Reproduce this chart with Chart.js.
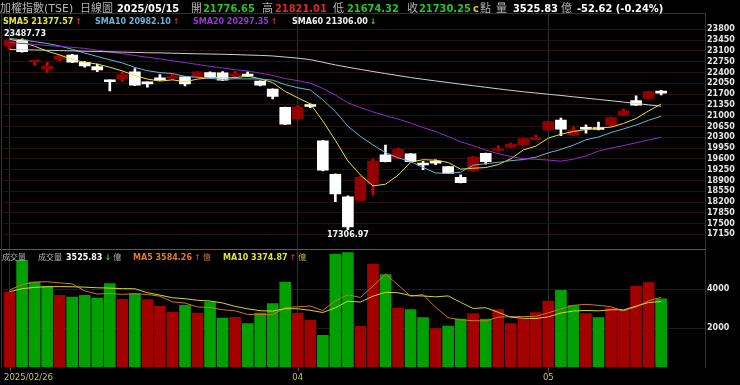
<!DOCTYPE html>
<html><head><meta charset="utf-8">
<script src="https://cdn.jsdelivr.net/npm/chart.js@4.4.1/dist/chart.umd.min.js"></script>
<style>
html,body{margin:0;padding:0;background:#000;width:740px;height:385px;overflow:hidden;}
#wrap{position:relative;width:740px;height:385px;background:#000;}
canvas{position:absolute;left:0;top:0;}
.t{position:absolute;white-space:nowrap;font-family:"DejaVu Sans","Noto Sans CJK TC",sans-serif;z-index:5;}
</style></head><body>
<div id="wrap">
<canvas id="price" width="740" height="385"></canvas>
<canvas id="vol" width="740" height="385"></canvas>
</div>
<script>
// ---------- data ----------
const dates = ['2025/02/26','2025/02/27','2025/03/03','2025/03/04','2025/03/05','2025/03/06','2025/03/07','2025/03/10','2025/03/11','2025/03/12',
 '2025/03/13','2025/03/14','2025/03/17','2025/03/18','2025/03/19','2025/03/20','2025/03/21','2025/03/24','2025/03/25','2025/03/26',
 '2025/03/27','2025/03/28','2025/03/31','2025/04/01','2025/04/02','2025/04/07','2025/04/08','2025/04/09','2025/04/10','2025/04/11',
 '2025/04/14','2025/04/15','2025/04/16','2025/04/17','2025/04/18','2025/04/21','2025/04/22','2025/04/23','2025/04/24','2025/04/25',
 '2025/04/28','2025/04/29','2025/04/30','2025/05/02','2025/05/05','2025/05/06','2025/05/07','2025/05/08','2025/05/09','2025/05/12',
 '2025/05/13','2025/05/14','2025/05/15'];
const opens = [23250,23450,22740,22520,22820,22960,22730,22590,22160,22180,
 22420,22070,22180,22210,22260,22250,22400,22390,22290,22330,
 22120,21860,21270,20890,21330,20180,19100,18370,18250,18790,
 19730,19620,19760,19460,19500,19350,19000,19210,19780,19870,
 19980,20050,20220,20540,20860,20370,20600,20610,20700,21020,
 21490,21560,21776.65];
const highs = [23470,23487.73,22790,22730,22950,22990,22750,22670,22160,22420,
 22530,22100,22330,22350,22270,22430,22420,22430,22440,22420,
 22130,21870,21280,21330,21380,20190,19110,18400,19040,19600,
 20050,19950,19770,19520,19570,19360,19080,19670,19790,20030,
 20110,20270,20370,20820,20920,20640,20700,20790,20950,21210,
 21640,21800,21821.01];
const lows = [23160,23060,22640,22400,22770,22720,22570,22430,21800,22100,
 21970,21920,22140,22170,21960,22240,22230,22140,22240,22260,
 21960,21540,20710,20880,21260,19210,18210,17306.97,18250,18430,
 19500,19600,19500,19250,19410,19120,18820,19200,19430,19860,
 19960,20040,20210,20530,20350,20360,20430,20540,20650,21000,
 21330,21540,21674.32];
const closes = [23460,23075,22770,22610,22930,22730,22610,22480,22100,22330,
 21990,22030,22160,22290,22030,22420,22250,22150,22310,22280,
 21990,21620,20720,21280,21298,19232,18460,17392,19001,19529,
 19510,19910,19510,19400,19460,19130,18830,19660,19510,19930,
 20080,20260,20280,20810,20560,20530,20560,20550,20940,21150,
 21340,21782.87,21730.25];
const prevClose = 23300;
const sma5 = [23480,23390,23250,23090,22969,22823,22730,22672,22570,22450,
 22302,22186,22122,22160,22100,22186,22230,22228,22232,22282,
 22196,22070,21784,21578,21382,20830,20198,19532,19077,18723,
 18778,19068,19492,19572,19558,19482,19266,19296,19318,19412,
 19602,19888,20012,20272,20398,20488,20548,20602,20628,20746,
 20908,21153,21377.57];
const sma10 = [23500,23460,23400,23340,23260,23150,23030,22920,22810,22710,
 22563,22458,22397,22365,22275,22244,22208,22175,22196,22191,
 22191,22150,22006,21905,21832,21513,21134,20658,20327,20052,
 19804,19633,19512,19324,19140,19130,19167,19394,19445,19485,
 19542,19577,19654,19795,19905,20045,20218,20307,20450,20572,
 20698,20850,20982.10];
const sma20 = [23370,23340,23310,23275,23245,23215,23180,23125,23065,23010,
 22950,22895,22840,22780,22720,22660,22600,22545,22490,22450,
 22377,22304,22202,22135,22053,21879,21671,21417,21262,21122,
 20998,20892,20759,20615,20486,20322,20151,20026,19886,19769,
 19674,19606,19584,19561,19524,19589,19694,19852,19948,20030,
 20120,20214,20297.35];
const sma60 = [23150,23140,23130,23120,23110,23100,23090,23080,23070,23060,
 23050,23040,23035,23025,23015,23005,22998,22990,22980,22965,
 22955,22935,22900,22865,22815,22730,22645,22570,22500,22430,
 22365,22300,22235,22180,22125,22075,22020,21970,21920,21870,
 21820,21775,21735,21693,21655,21610,21570,21525,21485,21440,
 21395,21350,21306.00];
const volumes = [3877,5502,4390,4169,3708,3620,3708,3569,4308,3502,
 3795,3487,3143,2851,3195,2800,3364,2544,2579,2256,
 2800,3282,4390,2800,2426,1656,5810,5897,2118,5297,
 4769,3057,2974,2564,2000,2133,2492,2769,2492,2974,
 2256,2513,2820,3415,3964,3179,2769,2564,3041,2938,
 4169,4359,3525.83];
const volMa5 = [3960,4250,4370,4390,4329,4278,3919,3755,3783,3741,
 3776,3732,3647,3356,3294,3095,3071,2951,2896,2709,
 2709,2692,3061,3106,3140,2911,3416,3718,3581,4156,
 4778,4228,3643,3732,3073,2546,2433,2392,2377,2572,
 2597,2601,2611,2796,2994,3178,3229,3178,3103,2898,
 3096,3414,3584.26];
const volMa10 = [3880,4030,4100,4130,4140,4130,4110,4080,4060,4035,
 4027,3826,3701,3569,3518,3436,3401,3299,3126,3001,
 2902,2881,3006,3001,2924,2810,3054,3390,3344,3648,
 3845,3822,3680,3657,3614,3662,3330,3017,3055,2822,
 2571,2517,2501,2586,2783,2887,2915,2895,2950,2946,
 3137,3322,3374.87];
const priceTicks = [23800,23450,23100,22750,22400,22050,21700,21350,21000,20650,20300,19950,19600,19250,18900,18550,18200,17850,17500,17150];
const volumeTicks = [2000,4000];
const emptySlots = 3;

// ---------- derived ----------
const N = dates.length;
const labels = dates.concat(Array(emptySlots).fill(''));
const RED_BODY='#920000', RED_WICK='#d00000', WHITE='#ffffff';
const bodyColors = opens.map((o,i)=> closes[i] >= o ? RED_BODY : WHITE);
const wickColors = opens.map((o,i)=> closes[i] >= o ? RED_WICK : WHITE);
const volColors = closes.map((c,i)=> c >= (i ? closes[i-1] : prevClose) ? '#a30000' : '#00a000');
// month marks (a month mark too close to the first full-date label is dropped)
const axisMarks = [];
dates.forEach((d,i)=>{
  if (i===0) axisMarks.push({index:i,label:d});
  else if (d.slice(5,7)!==dates[i-1].slice(5,7) && i - axisMarks[axisMarks.length-1].index > 5)
    axisMarks.push({index:i,label:d.slice(5,7)});
});
const markIdx = new Set(axisMarks.map(m=>m.index));
const GRIDV = '#2e2e2e';

Chart.defaults.font.family = '"DejaVu Sans", sans-serif';

function xAxis(){
  return {
    type:'category', offset:true,
    grid:{offset:false, color:c=> markIdx.has(c.index)?GRIDV:'rgba(0,0,0,0)', drawTicks:false, lineWidth:1},
    ticks:{display:false, autoSkip:false},
    border:{display:false},
    afterFit:s=>{s.height=0;}
  };
}

// ---------- price chart ----------
const pricePlugin = {
  id:'priceDeco',
  afterDraw(chart){
    const {ctx, chartArea:a, scales:{x,y}} = chart;
    ctx.save();
    ctx.strokeStyle='#3a2e2e'; ctx.lineWidth=1;
    ctx.beginPath(); ctx.moveTo(0,a.top+0.5); ctx.lineTo(a.right+0.5,a.top+0.5); ctx.stroke();
    ctx.beginPath(); ctx.moveTo(1.5,a.top); ctx.lineTo(1.5,a.bottom); ctx.stroke();
    ctx.font='bold 8px "DejaVu Sans"'; ctx.fillStyle='#f2f2f2'; ctx.textAlign='left'; ctx.textBaseline='alphabetic';
    const hi = highs.indexOf(Math.max(...highs)), lo = lows.indexOf(Math.min(...lows));
    let t = highs[hi].toFixed(2), w = ctx.measureText(t).width, px = x.getPixelForValue(hi);
    ctx.fillText(t, Math.max(a.left+0.7, px-w/2), y.getPixelForValue(highs[hi])-2.6);
    t = lows[lo].toFixed(2); w = ctx.measureText(t).width; px = x.getPixelForValue(lo);
    ctx.fillText(t, px-w/2, y.getPixelForValue(lows[lo])+7.5);
    ctx.restore();
  }
};
function maLine(label,data,color){
  return {type:'line',label,data,borderColor:color,borderWidth:1,pointRadius:0,tension:0,fill:false,order:0};
}
new Chart(document.getElementById('price'),{
  type:'bar',
  data:{labels,datasets:[
    maLine('SMA60',sma60,'#cfcfcf'),
    maLine('SMA20',sma20,'#8e2ccc'),
    maLine('SMA10',sma10,'#66b6d6'),
    maLine('SMA5',sma5,'#e4e432'),
    {type:'bar',label:'wick',data:lows.map((l,i)=>[l,highs[i]]),backgroundColor:wickColors,barThickness:2,grouped:false,order:2},
    {type:'bar',label:'body',data:opens.map((o,i)=>[o,closes[i]]),backgroundColor:bodyColors,barThickness:11,minBarLength:2,grouped:false,order:1}
  ]},
  options:{
    responsive:false, animation:false, devicePixelRatio:1, events:[],
    layout:{padding:{top:13,bottom:136,left:3.3,right:0}},
    plugins:{legend:{display:false},tooltip:{enabled:false}},
    scales:{
      x:xAxis(),
      y:{position:'right',min:16677,max:24328,
        afterBuildTicks:s=>{s.ticks=priceTicks.map(v=>({value:v}));},
        afterFit:s=>{s.width=35;},
        ticks:{color:'#e6e6e6',font:{size:8,weight:'bold'},padding:2,autoSkip:false,callback:v=>String(v)},
        grid:{color:'#261010',drawTicks:false},
        border:{color:'#3a2e2e'}}
    }
  },
  plugins:[pricePlugin]
});

// ---------- volume chart ----------
const volPlugin = {
  id:'volDeco',
  afterDraw(chart){
    const {ctx, chartArea:a, scales:{x}} = chart;
    ctx.save();
    ctx.strokeStyle='#6e4c66'; ctx.lineWidth=1;
    ctx.beginPath(); ctx.moveTo(0,a.top+0.5); ctx.lineTo(a.right+1,a.top+0.5); ctx.stroke();
    ctx.strokeStyle='#3a2e2e';
    ctx.beginPath(); ctx.moveTo(1.5,a.top); ctx.lineTo(1.5,a.bottom); ctx.stroke();
    ctx.strokeStyle='#555';
    axisMarks.forEach(m=>{const px=Math.round(x.getPixelForValue(m.index))+0.5;ctx.beginPath();ctx.moveTo(px,a.bottom);ctx.lineTo(px,a.bottom+4);ctx.stroke();});
    ctx.font='8.5px "DejaVu Sans"'; ctx.fillStyle='#c8c64e'; ctx.textAlign='left'; ctx.textBaseline='middle';
    axisMarks.forEach(m=>{const w=ctx.measureText(m.label).width;const px=x.getPixelForValue(m.index);ctx.fillText(m.label,Math.max(4,px-w/2),378);});
    ctx.restore();
  }
};
new Chart(document.getElementById('vol'),{
  type:'bar',
  data:{labels,datasets:[
    {type:'line',label:'MA10',data:volMa10,borderColor:'#d6d03a',borderWidth:1,pointRadius:0,tension:0,order:0},
    {type:'line',label:'MA5',data:volMa5,borderColor:'#c8782a',borderWidth:1,pointRadius:0,tension:0,order:0},
    {type:'bar',label:'vol',data:volumes,backgroundColor:volColors,barPercentage:0.93,categoryPercentage:1,order:1}
  ]},
  options:{
    responsive:false, animation:false, devicePixelRatio:1, events:[],
    layout:{padding:{top:249,bottom:17.7,left:3.3,right:0}},
    plugins:{legend:{display:false},tooltip:{enabled:false}},
    scales:{
      x:xAxis(),
      y:{position:'right',min:0,max:6067,
        afterBuildTicks:s=>{s.ticks=volumeTicks.map(v=>({value:v}));},
        afterFit:s=>{s.width=35;},
        ticks:{color:'#e6e6e6',font:{size:8,weight:'bold'},padding:2,autoSkip:false,callback:v=>String(v)},
        grid:{color:'#241c1c',drawTicks:false},
        border:{color:'#3a2e2e'}}
    }
  },
  plugins:[volPlugin]
});

// ---------- header texts ----------
const wrap = document.getElementById('wrap');
function addText(x, yc, parts){
  const d = document.createElement('div');
  d.className='t';
  d.style.left = x+'px';
  let maxS = 0;
  parts.forEach(p=>{
    const s = document.createElement('span');
    s.textContent = p[0];
    s.style.color = p[1];
    s.style.fontSize = p[2]+'px';
    s.style.fontWeight = p[3]?'bold':'normal';
    if (p[4]) s.style.marginLeft = p[4]+'px';
    maxS = Math.max(maxS,p[2]);
    d.appendChild(s);
  });
  d.style.top = (yc - maxS)+'px';
  d.style.lineHeight = (2*maxS)+'px';
  wrap.appendChild(d);
}
const GRAY='#b4b4b4', UPC='#e02828', DNC='#22c822';
const L = N-1, pc = closes[L-1];
const col = v => v > pc ? UPC : (v < pc ? DNC : '#ffffff');
const arrow = (a,b)=> a>=b ? ['\u2191',UPC,8,true,2] : ['\u2193','#22dd22',8,true,2];
const y1 = 6.7, f1 = 9.9, c1 = 11;
addText(0,y1,[['加權指數(TSE)',GRAY,c1,false]]);
addText(80,y1,[['日線圖',GRAY,c1,false]]);
addText(117,y1,[[dates[L],'#ffffff',f1,true]]);
addText(191,y1,[['開',GRAY,c1,false]]);
addText(203,y1,[[opens[L].toFixed(2),col(opens[L]),f1,true]]);
addText(262,y1,[['高',GRAY,c1,false]]);
addText(275,y1,[[highs[L].toFixed(2),col(highs[L]),f1,true]]);
addText(333,y1,[['低',GRAY,c1,false]]);
addText(347,y1,[[lows[L].toFixed(2),col(lows[L]),f1,true]]);
addText(407,y1,[['收',GRAY,c1,false]]);
addText(419,y1,[[closes[L].toFixed(2),col(closes[L]),f1,true]]);
addText(473,y1,[['c','#d8d020',f1,true]]);
addText(480,y1,[['點',GRAY,c1,false]]);
addText(496,y1,[['量',GRAY,c1,false]]);
addText(513,y1,[[volumes[L].toFixed(2),'#ffffff',f1,true]]);
addText(561,y1,[['億',GRAY,c1,false]]);
const chg = closes[L]-pc, pct = chg/pc*100;
addText(577,y1,[[chg.toFixed(2)+' ('+pct.toFixed(2)+'%)','#ffffff',f1,true]]);

const y2 = 19, f2 = 8;
addText(3,y2,[['SMA5 '+sma5[L].toFixed(2),'#e8e828',f2,true],arrow(sma5[L],sma5[L-1])]);
addText(95,y2,[['SMA10 '+sma10[L].toFixed(2),'#62b6dc',f2,true],arrow(sma10[L],sma10[L-1])]);
addText(193,y2,[['SMA20 '+sma20[L].toFixed(2),'#9a34d4',f2,true],arrow(sma20[L],sma20[L-1])]);
addText(292,y2,[['SMA60 '+sma60[L].toFixed(2),'#f0f0f0',f2,true],arrow(sma60[L],sma60[L-1])]);

const y3 = 255;
addText(2,y3,[['成交量',GRAY,8,false]]);
addText(38,y3,[['成交量',GRAY,8,false]]);
addText(66,y3,[[volumes[L].toFixed(2),'#ffffff',8,true],arrow(volumes[L],volumes[L-1]),['億',GRAY,8,false,2]]);
addText(133,y3,[['MA5 '+volMa5[L].toFixed(2),'#e07a2a',8,true],arrow(volMa5[L],volMa5[L-1]),['億','#c07040',8,false,2]]);
addText(223,y3,[['MA10 '+volMa10[L].toFixed(2),'#e2e030',8,true],arrow(volMa10[L],volMa10[L-1]),['億','#c0b840',8,false,2]]);
</script>
</body></html>
